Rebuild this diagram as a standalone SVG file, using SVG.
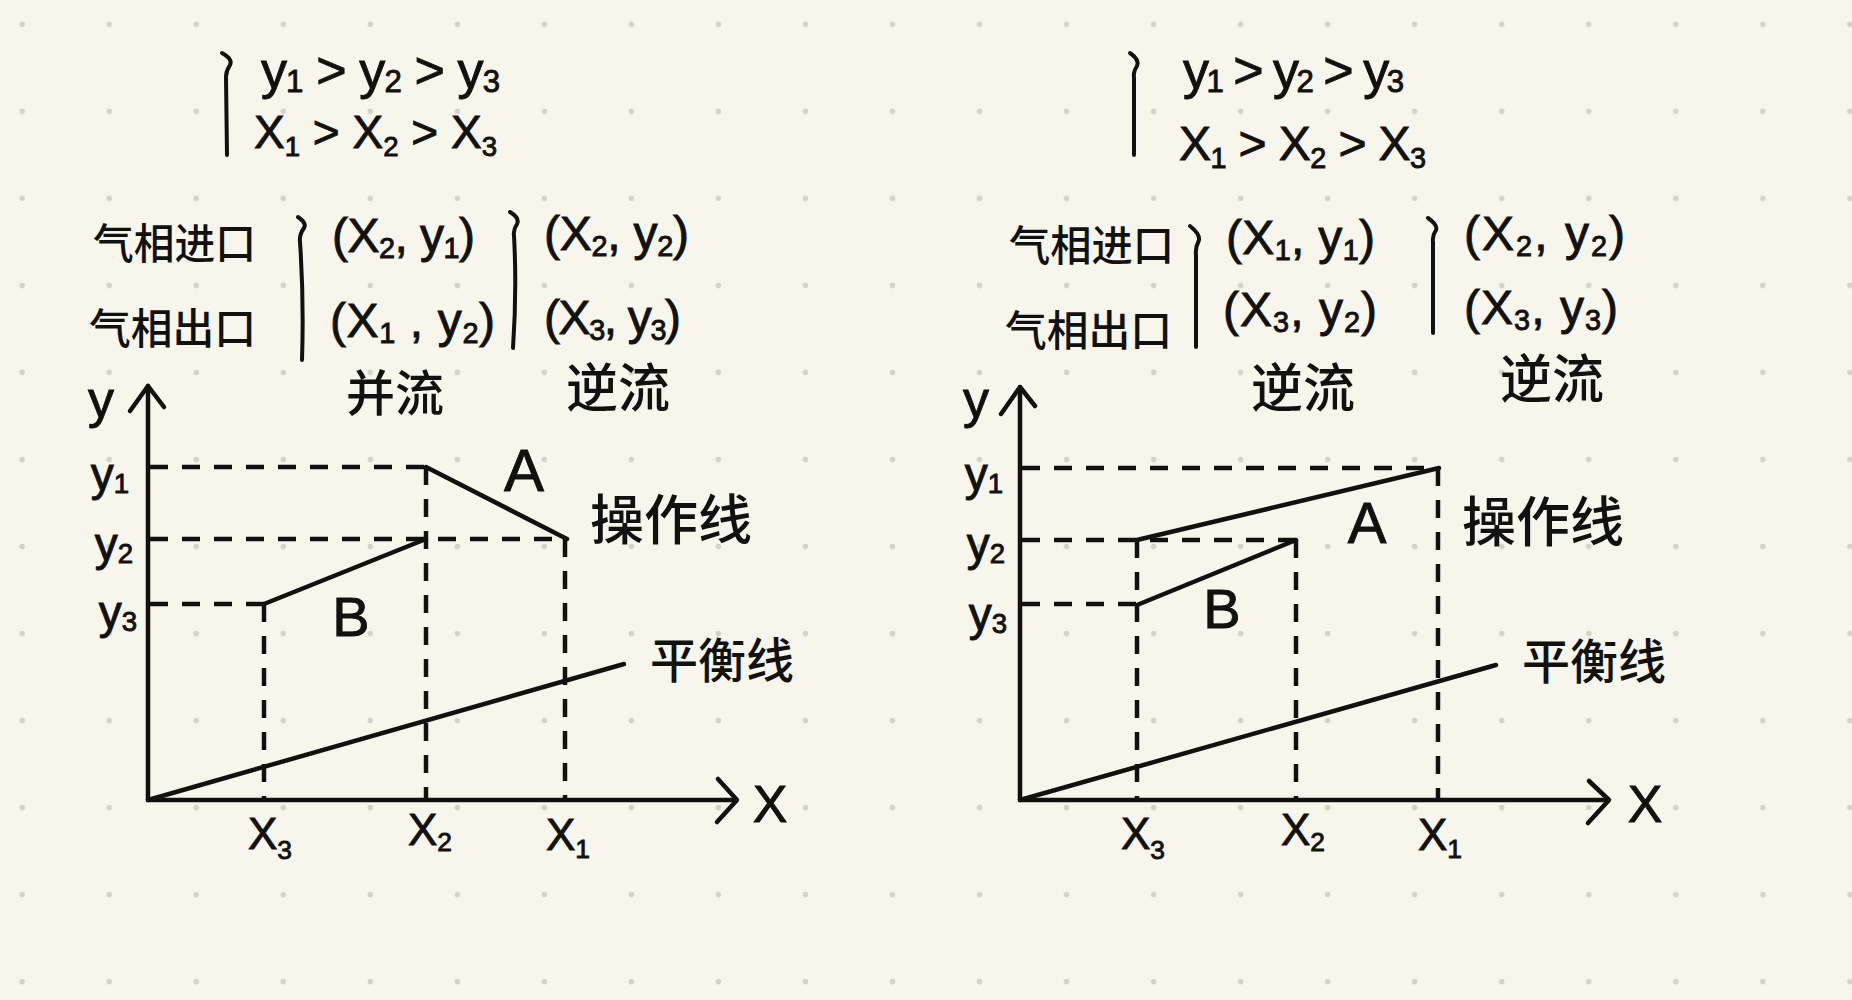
<svg xmlns="http://www.w3.org/2000/svg" width="1852" height="1000" viewBox="0 0 1852 1000">
  <defs>
    <pattern id="dots" x="0" y="0" width="87.03" height="87.03" patternUnits="userSpaceOnUse">
      <circle cx="22.2" cy="24.3" r="2.8" fill="#d4d2cd"/>
    </pattern>
    <style>
      .ink { stroke: #111; stroke-width: 4.5; fill: none; stroke-linecap: round; stroke-linejoin: round; }
      .dash { stroke: #111; stroke-width: 4.5; fill: none; stroke-dasharray: 18 14; }
      .brace { stroke: #111; stroke-width: 4; fill: none; stroke-linecap: round; stroke-linejoin: round; }
      .lat { font-family: "Liberation Sans", "DejaVu Sans", sans-serif; fill: #111; stroke: #111; stroke-width: 0.9; }
      .cjk { font-family: "Noto Sans CJK SC", "Noto Sans", sans-serif; fill: #111; font-weight: 500; }
      .s { font-size: 0.6em; }
    </style>
  </defs>

  <rect x="0" y="0" width="1852" height="1000" fill="#f8f6ec"/>
  <rect x="0" y="0" width="1852" height="1000" fill="url(#dots)"/>

  <!-- ================= LEFT PANEL ================= -->
  <g id="left-panel">
    <g id="left-order">
      <path class="brace" d="M222 53 Q233 59 230 65 Q226 71 226 77 L227 155"/>
      <text class="lat" x="261" y="88" font-size="52" textLength="239" lengthAdjust="spacing">y<tspan class="s" dy="4">1</tspan><tspan dy="-4"> &gt; y</tspan><tspan class="s" dy="4">2</tspan><tspan dy="-4"> &gt; y</tspan><tspan class="s" dy="4">3</tspan></text>
      <text class="lat" x="254" y="148" font-size="46" textLength="243" lengthAdjust="spacing">X<tspan class="s" dy="8">1</tspan><tspan dy="-8"> &gt; X</tspan><tspan class="s" dy="8">2</tspan><tspan dy="-8"> &gt; X</tspan><tspan class="s" dy="8">3</tspan></text>
    </g>
    <g id="left-labels">
      <text class="cjk" x="93" y="259" font-size="42" textLength="163" lengthAdjust="spacingAndGlyphs">气相进口</text>
      <text class="cjk" x="89" y="344" font-size="42" textLength="167" lengthAdjust="spacingAndGlyphs">气相出口</text>
    </g>
    <g id="left-cocurrent">
      <path class="brace" d="M298 217 Q307 223 304 228 Q299 235 300 242 Q304 300 302 360"/>
      <text class="lat" x="332" y="252" font-size="48" textLength="143" lengthAdjust="spacing">(X<tspan class="s" dy="6">2</tspan><tspan dy="-6">, y</tspan><tspan class="s" dy="6">1</tspan><tspan dy="-6">)</tspan></text>
      <text class="lat" x="330" y="337" font-size="48" textLength="165" lengthAdjust="spacing">(X<tspan class="s" dy="6">1</tspan><tspan dy="-6"> , y</tspan><tspan class="s" dy="6">2</tspan><tspan dy="-6">)</tspan></text>
      <text class="cjk" x="395" y="411" font-size="49" text-anchor="middle">并流</text>
    </g>
    <g id="left-countercurrent">
      <path class="brace" d="M510 212 Q520 218 517 224 Q513 230 514 236 Q517 290 513 348"/>
      <text class="lat" x="544" y="250" font-size="48" textLength="145" lengthAdjust="spacing">(X<tspan class="s" dy="6">2</tspan><tspan dy="-6">, y</tspan><tspan class="s" dy="6">2</tspan><tspan dy="-6">)</tspan></text>
      <text class="lat" x="544" y="334" font-size="48" textLength="137" lengthAdjust="spacing">(X<tspan class="s" dy="6">3</tspan><tspan dy="-6">, y</tspan><tspan class="s" dy="6">3</tspan><tspan dy="-6">)</tspan></text>
      <text class="cjk" x="618" y="407" font-size="52" text-anchor="middle">逆流</text>
    </g>

    <g id="left-chart">
      <g id="left-axes">
        <line class="ink" x1="148" y1="800" x2="148" y2="386"/>
        <polyline class="ink" points="130,411 148,386 164,407"/>
        <line class="ink" x1="148" y1="800" x2="736" y2="800"/>
        <polyline class="ink" points="718,779 737,800 717,822"/>
        <text class="lat" x="101" y="417" font-size="52" text-anchor="middle">y</text>
        <text class="lat" x="770" y="822" font-size="52" text-anchor="middle">X</text>
      </g>
      <g id="left-guides">
        <line class="dash" x1="150" y1="467" x2="426" y2="467"/>
        <line class="dash" x1="150" y1="539" x2="566" y2="539"/>
        <line class="dash" x1="150" y1="604" x2="264" y2="604"/>
        <line class="dash" x1="264" y1="604" x2="264" y2="800"/>
        <line class="dash" x1="426" y1="467" x2="426" y2="800"/>
        <line class="dash" x1="565" y1="539" x2="565" y2="800"/>
      </g>
      <g id="left-ticks">
        <text class="lat" x="110" y="490" font-size="46" text-anchor="middle">y<tspan class="s" dy="3">1</tspan></text>
        <text class="lat" x="114" y="560" font-size="46" text-anchor="middle">y<tspan class="s" dy="3">2</tspan></text>
        <text class="lat" x="118" y="628" font-size="46" text-anchor="middle">y<tspan class="s" dy="3">3</tspan></text>
        <text class="lat" x="270" y="849" font-size="44" text-anchor="middle">X<tspan class="s" dy="10">3</tspan></text>
        <text class="lat" x="430" y="845" font-size="44" text-anchor="middle">X<tspan class="s" dy="6">2</tspan></text>
        <text class="lat" x="568" y="850" font-size="44" text-anchor="middle">X<tspan class="s" dy="8">1</tspan></text>
      </g>
      <g id="left-lines">
        <line class="ink" x1="426" y1="467" x2="567" y2="539"/>
        <line class="ink" x1="264" y1="604" x2="426" y2="539"/>
        <line class="ink" x1="148" y1="800" x2="624" y2="664"/>
      </g>
      <g id="left-line-labels">
        <text class="lat" x="524" y="491" font-size="60" text-anchor="middle">A</text>
        <text class="lat" x="351" y="636" font-size="56" text-anchor="middle">B</text>
        <text class="cjk" x="590" y="540" font-size="54" textLength="162" lengthAdjust="spacingAndGlyphs">操作线</text>
        <text class="cjk" x="650" y="678" font-size="48" textLength="144" lengthAdjust="spacingAndGlyphs">平衡线</text>
      </g>
    </g>
  </g>

  <!-- ================= RIGHT PANEL ================= -->
  <g id="right-panel">
    <g id="right-order">
      <path class="brace" d="M1130 53 Q1140 60 1137 66 Q1133 72 1134 78 L1134 155"/>
      <text class="lat" x="1183" y="88" font-size="52" textLength="221" lengthAdjust="spacing">y<tspan class="s" dy="4">1</tspan><tspan dy="-4"> &gt; y</tspan><tspan class="s" dy="4">2</tspan><tspan dy="-4"> &gt; y</tspan><tspan class="s" dy="4">3</tspan></text>
      <text class="lat" x="1179" y="160" font-size="48" textLength="247" lengthAdjust="spacing">X<tspan class="s" dy="8">1</tspan><tspan dy="-8"> &gt; X</tspan><tspan class="s" dy="8">2</tspan><tspan dy="-8"> &gt; X</tspan><tspan class="s" dy="8">3</tspan></text>
    </g>
    <g id="right-labels">
      <text class="cjk" x="1009" y="261" font-size="42" textLength="165" lengthAdjust="spacingAndGlyphs">气相进口</text>
      <text class="cjk" x="1005" y="346" font-size="42" textLength="167" lengthAdjust="spacingAndGlyphs">气相出口</text>
    </g>
    <g id="right-case-a">
      <path class="brace" d="M1190 226 Q1200 234 1199 240 Q1195 248 1196 255 L1196 347"/>
      <text class="lat" x="1226" y="254" font-size="48" textLength="149" lengthAdjust="spacing">(X<tspan class="s" dy="6">1</tspan><tspan dy="-6">, y</tspan><tspan class="s" dy="6">1</tspan><tspan dy="-6">)</tspan></text>
      <text class="lat" x="1223" y="326" font-size="48" textLength="154" lengthAdjust="spacing">(X<tspan class="s" dy="6">3</tspan><tspan dy="-6">, y</tspan><tspan class="s" dy="6">2</tspan><tspan dy="-6">)</tspan></text>
      <text class="cjk" x="1303" y="407" font-size="52" text-anchor="middle">逆流</text>
    </g>
    <g id="right-case-b">
      <path class="brace" d="M1428 218 Q1438 225 1436 230 Q1432 236 1433 242 L1433 333"/>
      <text class="lat" x="1464" y="250" font-size="48" textLength="161" lengthAdjust="spacing">(X<tspan class="s" dy="6">2</tspan><tspan dy="-6">, y</tspan><tspan class="s" dy="6">2</tspan><tspan dy="-6">)</tspan></text>
      <text class="lat" x="1464" y="324" font-size="48" textLength="154" lengthAdjust="spacing">(X<tspan class="s" dy="6">3</tspan><tspan dy="-6">, y</tspan><tspan class="s" dy="6">3</tspan><tspan dy="-6">)</tspan></text>
      <text class="cjk" x="1552" y="398" font-size="52" text-anchor="middle">逆流</text>
    </g>

    <g id="right-chart">
      <g id="right-axes">
        <line class="ink" x1="1020" y1="800" x2="1020" y2="387"/>
        <polyline class="ink" points="1001,414 1020,387 1035,406"/>
        <line class="ink" x1="1020" y1="800" x2="1608" y2="800"/>
        <polyline class="ink" points="1589,781 1609,800 1588,823"/>
        <text class="lat" x="976" y="417" font-size="52" text-anchor="middle">y</text>
        <text class="lat" x="1645" y="822" font-size="52" text-anchor="middle">X</text>
      </g>
      <g id="right-guides">
        <line class="dash" x1="1022" y1="468" x2="1438" y2="468"/>
        <line class="dash" x1="1022" y1="540" x2="1296" y2="540"/>
        <line class="dash" x1="1022" y1="604" x2="1137" y2="604"/>
        <line class="dash" x1="1137" y1="540" x2="1137" y2="800"/>
        <line class="dash" x1="1296" y1="540" x2="1296" y2="800"/>
        <line class="dash" x1="1438" y1="468" x2="1438" y2="800"/>
      </g>
      <g id="right-ticks">
        <text class="lat" x="984" y="490" font-size="46" text-anchor="middle">y<tspan class="s" dy="3">1</tspan></text>
        <text class="lat" x="986" y="560" font-size="46" text-anchor="middle">y<tspan class="s" dy="3">2</tspan></text>
        <text class="lat" x="988" y="630" font-size="46" text-anchor="middle">y<tspan class="s" dy="3">3</tspan></text>
        <text class="lat" x="1143" y="849" font-size="44" text-anchor="middle">X<tspan class="s" dy="10">3</tspan></text>
        <text class="lat" x="1303" y="845" font-size="44" text-anchor="middle">X<tspan class="s" dy="6">2</tspan></text>
        <text class="lat" x="1440" y="850" font-size="44" text-anchor="middle">X<tspan class="s" dy="8">1</tspan></text>
      </g>
      <g id="right-lines">
        <line class="ink" x1="1137" y1="540" x2="1439" y2="468"/>
        <line class="ink" x1="1137" y1="605" x2="1296" y2="540"/>
        <line class="ink" x1="1020" y1="800" x2="1496" y2="665"/>
      </g>
      <g id="right-line-labels">
        <text class="lat" x="1367" y="543" font-size="58" text-anchor="middle">A</text>
        <text class="lat" x="1222" y="628" font-size="56" text-anchor="middle">B</text>
        <text class="cjk" x="1462" y="542" font-size="54" textLength="162" lengthAdjust="spacingAndGlyphs">操作线</text>
        <text class="cjk" x="1522" y="679" font-size="48" textLength="144" lengthAdjust="spacingAndGlyphs">平衡线</text>
      </g>
    </g>
  </g>
</svg>
